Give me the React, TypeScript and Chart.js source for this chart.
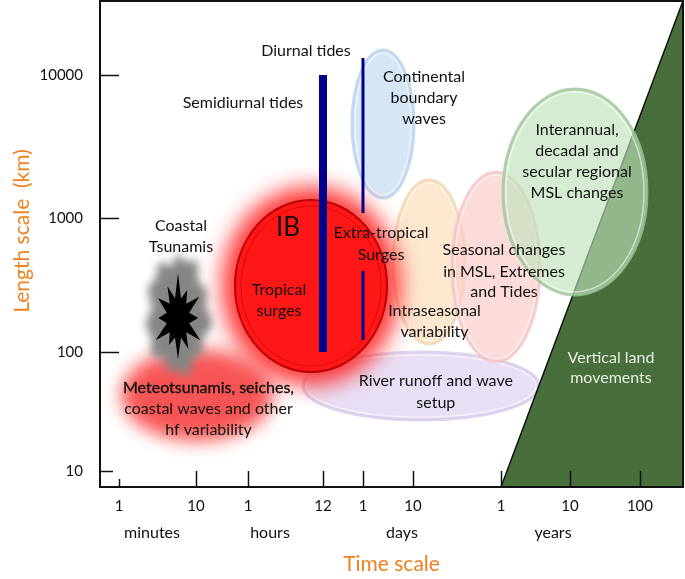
import React, { useEffect, useRef } from 'react';
import { Chart, registerables } from 'chart.js';

Chart.register(...registerables);

const FONT = 'Lato, "Open Sans", "DejaVu Sans", sans-serif';
const ORANGE = '#F0801E';

// ---- axes (schematic positions along each axis, 0..100) ----
const timeTickPos = [3.26, 16.47, 25.39, 38.25, 45.11, 53.69, 68.78, 80.62, 92.62];
const timeTickLabels = ['1', '10', '1', '12', '1', '10', '1', '10', '100'];
const timeUnitPos = [8.92, 29.16, 51.8, 77.7];
const timeUnitLabels = ['minutes', 'hours', 'days', 'years'];

const lengthTickPos = [84.77, 55.35, 27.78, 3.29];
const lengthTickLabels = ['10000', '1000', '100', '10'];

// ---- processes drawn as ellipses (centre, half extents in axis units) ----
const procNames = ['River runoff and wave setup', 'Continental boundary waves', 'Intraseasonal variability',
  'Seasonal changes', 'Interannual/decadal', 'Meteotsunamis', 'Coastal tsunamis', 'Tropical surges / IB'];
const procX = [55.06, 48.54, 56.43, 67.92, 81.47, 16.64, 13.38, 36.19];
const procY = [20.78, 74.69, 46.30, 45.27, 60.70, 18.93, 35.39, 41.36];
const procHalfX = [20.24, 5.32, 6.17, 7.55, 12.35, 13.04, 5.2, 13.04];
const procHalfY = [7.0, 15.23, 16.87, 19.55, 21.19, 9.47, 11.8, 17.7];

// ---- tides (vertical bars) ----
const semidiurnalX = 38.25;
const semidiurnalY = [27.78, 84.77];
const diurnalX = 45.11;
const diurnalUpperY = [56.38, 88.27];
const diurnalLowerY = [30.25, 44.44];

// ---- vertical land movements (triangle) ----
const vlmX = [68.78, 100, 100];
const vlmY = [0, 100, 0];

// ---- text annotations ----
const noteText = ['Diurnal tides', 'Semidiurnal tides', 'Continental', 'boundary', 'waves',
  'Interannual,', 'decadal and', 'secular regional', 'MSL changes', 'IB', 'Tropical', 'surges',
  'Extra-tropical', 'Surges', 'Intraseasonal', 'variability', 'Seasonal changes', 'in MSL, Extremes',
  'and Tides', 'River runoff and wave', 'setup', 'Meteotsunamis, seiches,', 'coastal waves and other',
  'hf variability', 'Vertical land', 'movements', 'Coastal', 'Tsunamis'];
const noteX = [35.33, 24.53, 55.57, 55.57, 55.57, 81.82, 81.82, 81.82, 81.82, 32.25, 30.7, 30.7,
  48.2, 48.2, 57.38, 57.38, 69.3, 69.3, 69.3, 57.6, 57.6, 18.61, 18.61, 18.61, 87.65, 87.65, 13.89, 13.89];
const noteY = [89.71, 79.01, 84.36, 80.04, 75.72, 73.46, 69.14, 64.81, 60.49, 53.29, 40.53, 36.21,
  52.26, 47.74, 36.21, 31.89, 48.77, 44.24, 40.12, 21.81, 17.28, 20.37, 16.05, 11.73, 26.54, 22.43, 53.7, 49.38];

// styles
const bubbleFill = ['rgba(229,219,243,0.9)', 'rgba(207,226,243,0.85)', 'rgba(253,229,202,0.88)',
  'rgba(251,205,205,0.72)', 'rgba(190,225,185,0.64)'];
const bubbleEdge = ['rgba(215,202,234,0.8)', 'rgba(185,210,236,0.8)', 'rgba(244,212,178,0.8)',
  'rgba(242,190,190,0.65)', 'rgba(160,198,155,0.8)'];
const xTickLen = [8, 16, 16, 16, 16, 16, 16, 16, 16];
const yTickLen = [19, 19, 19, 13];
const starSpikes = [1.0, 0.72, 0.95, 0.78, 1.0, 0.8, 0.92, 0.7, 1.0, 0.76, 0.9, 0.82];

function ell(chart: any, i: number) {
  const xs = chart.scales.x;
  const ys = chart.scales.y;
  const cx = xs.getPixelForValue(procX[i]);
  const cy = ys.getPixelForValue(procY[i]);
  const rx = xs.getPixelForValue(procX[i] + procHalfX[i]) - cx;
  const ry = cy - ys.getPixelForValue(procY[i] + procHalfY[i]);
  return { cx, cy, rx, ry };
}

function ellipsePath(ctx: CanvasRenderingContext2D, cx: number, cy: number, rx: number, ry: number) {
  ctx.beginPath();
  ctx.ellipse(cx, cy, Math.max(rx, 1), Math.max(ry, 1), 0, 0, Math.PI * 2);
}

function bubble(ctx: CanvasRenderingContext2D, chart: any, i: number) {
  const e = ell(chart, i);
  ctx.save();
  ellipsePath(ctx, e.cx, e.cy, e.rx, e.ry);
  ctx.fillStyle = bubbleFill[i];
  ctx.fill();
  ctx.lineWidth = 3;
  ctx.strokeStyle = bubbleEdge[i];
  ctx.stroke();
  ellipsePath(ctx, e.cx, e.cy, e.rx - 3, e.ry - 3);
  ctx.lineWidth = 1.5;
  ctx.strokeStyle = 'rgba(255,255,255,0.55)';
  ctx.stroke();
  ctx.restore();
}

const diagramPlugin = {
  id: 'diagram',
  beforeDatasetsDraw(chart: any) {
    const ctx: CanvasRenderingContext2D = chart.ctx;
    const xs = chart.scales.x;
    const ys = chart.scales.y;
    bubble(ctx, chart, 0);
    bubble(ctx, chart, 1);
    bubble(ctx, chart, 2);
    bubble(ctx, chart, 3);
    // vertical land movements triangle
    ctx.save();
    ctx.beginPath();
    vlmX.forEach((v, k) => {
      const px = xs.getPixelForValue(v);
      const py = ys.getPixelForValue(vlmY[k]);
      if (k === 0) ctx.moveTo(px, py); else ctx.lineTo(px, py);
    });
    ctx.closePath();
    ctx.fillStyle = '#476e3b';
    ctx.fill();
    ctx.beginPath();
    ctx.moveTo(xs.getPixelForValue(vlmX[0]), ys.getPixelForValue(vlmY[0]));
    ctx.lineTo(xs.getPixelForValue(vlmX[1]), ys.getPixelForValue(vlmY[1]));
    ctx.lineWidth = 1.5;
    ctx.strokeStyle = '#111';
    ctx.stroke();
    ctx.restore();
    bubble(ctx, chart, 4);

    // meteotsunami red blur
    let e = ell(chart, 5);
    ctx.save();
    ctx.filter = 'blur(9px)';
    ellipsePath(ctx, e.cx, e.cy, e.rx, e.ry);
    ctx.fillStyle = 'rgba(246,66,66,0.9)';
    ctx.fill();
    ctx.restore();

    // coastal tsunami grey blob + star
    e = ell(chart, 6);
    ctx.save();
    ctx.filter = 'blur(4px)';
    ctx.beginPath();
    for (let k = 0; k <= 90; k++) {
      const a = (k / 90) * Math.PI * 2;
      const r = 1 + 0.08 * Math.sin(11 * a) + 0.05 * Math.sin(5 * a + 1);
      const px = e.cx + Math.cos(a) * e.rx * r;
      const py = e.cy + Math.sin(a) * e.ry * r;
      if (k === 0) ctx.moveTo(px, py); else ctx.lineTo(px, py);
    }
    ctx.closePath();
    ctx.fillStyle = '#858585';
    ctx.fill();
    ctx.restore();
    ctx.save();
    ctx.beginPath();
    const n = starSpikes.length;
    const srx = e.rx * 0.85;
    const sry = e.ry * 0.78;
    for (let k = 0; k < n * 2; k++) {
      const a = -Math.PI / 2 + (k / (n * 2)) * Math.PI * 2;
      const r = k % 2 === 0 ? starSpikes[k / 2] : 0.45;
      const px = e.cx + Math.cos(a) * srx * r;
      const py = e.cy + 3 + Math.sin(a) * sry * r;
      if (k === 0) ctx.moveTo(px, py); else ctx.lineTo(px, py);
    }
    ctx.closePath();
    ctx.fillStyle = '#000';
    ctx.fill();
    ctx.restore();

    // IB / tropical surges red disc with glow
    e = ell(chart, 7);
    ctx.save();
    ctx.filter = 'blur(11px)';
    ellipsePath(ctx, e.cx, e.cy, e.rx + 13, e.ry + 13);
    ctx.fillStyle = 'rgba(255,30,30,0.9)';
    ctx.fill();
    ctx.restore();
    ctx.save();
    ellipsePath(ctx, e.cx, e.cy, e.rx, e.ry);
    ctx.fillStyle = '#ff1616';
    ctx.fill();
    ctx.lineWidth = 2;
    ctx.strokeStyle = '#b80000';
    ctx.stroke();
    ellipsePath(ctx, e.cx, e.cy, e.rx - 6, e.ry - 6);
    ctx.lineWidth = 1;
    ctx.strokeStyle = 'rgba(160,0,0,0.45)';
    ctx.stroke();
    ctx.restore();
  },
  afterDatasetsDraw(chart: any) {
    const ctx: CanvasRenderingContext2D = chart.ctx;
    const xs = chart.scales.x;
    const ys = chart.scales.y;
    ctx.save();
    ctx.textAlign = 'center';
    ctx.textBaseline = 'middle';
    noteText.forEach((t, i) => {
      let font = `16px ${FONT}`;
      let color = '#111';
      if (t === 'IB') font = `26px ${FONT}`;
      if (t === 'Vertical land' || t === 'movements') color = '#e8efe2';
      ctx.font = font;
      ctx.fillStyle = color;
      const px = xs.getPixelForValue(noteX[i]);
      const py = ys.getPixelForValue(noteY[i]);
      ctx.fillText(t, px, py);
      if (t.startsWith('Meteotsunamis')) {
        ctx.lineWidth = 0.35;
        ctx.strokeStyle = color;
        ctx.strokeText(t, px, py);
      }
    });
    ctx.restore();
  },
  afterDraw(chart: any) {
    const ctx: CanvasRenderingContext2D = chart.ctx;
    const xs = chart.scales.x;
    const ys = chart.scales.y;
    const { left, right, top, bottom } = chart.chartArea;
    ctx.save();
    ctx.strokeStyle = '#111';
    ctx.lineWidth = 2;
    ctx.strokeRect(left, top, right - left, bottom - top);
    ctx.lineWidth = 1.5;
    timeTickPos.forEach((v, i) => {
      const px = Math.round(xs.getPixelForValue(v)) + 0.5;
      ctx.beginPath();
      ctx.moveTo(px, bottom);
      ctx.lineTo(px, bottom - xTickLen[i]);
      ctx.stroke();
    });
    lengthTickPos.forEach((v, i) => {
      const py = Math.round(ys.getPixelForValue(v)) + 0.5;
      ctx.beginPath();
      ctx.moveTo(left, py);
      ctx.lineTo(left + yTickLen[i], py);
      ctx.stroke();
    });
    ctx.fillStyle = '#111';
    ctx.font = `16px ${FONT}`;
    ctx.textAlign = 'center';
    ctx.textBaseline = 'middle';
    timeUnitLabels.forEach((t, i) => {
      ctx.fillText(t, xs.getPixelForValue(timeUnitPos[i]), 533);
    });
    ctx.translate(22, 231);
    ctx.rotate(-Math.PI / 2);
    ctx.fillStyle = ORANGE;
    ctx.font = `21px ${FONT}`;
    ctx.fillText('Length scale  (km)', 0, 0);
    ctx.restore();
  },
};

export default function App() {
  const ref = useRef<HTMLCanvasElement | null>(null);
  useEffect(() => {
    if (!ref.current) return;
    const bar = (xv: number, ys: number[], w: number, label: string) => ({
      type: 'line' as const,
      label,
      data: [{ x: xv, y: ys[0] }, { x: xv, y: ys[1] }],
      borderColor: '#00008b',
      borderWidth: w,
      borderCapStyle: 'butt' as const,
      pointRadius: 0,
      showLine: true,
      fill: false,
    });
    const chart = new Chart(ref.current, {
      type: 'scatter',
      data: {
        datasets: [
          bar(semidiurnalX, semidiurnalY, 8, 'Semidiurnal tides'),
          bar(diurnalX, diurnalUpperY, 3, 'Diurnal tides'),
          bar(diurnalX, diurnalLowerY, 3, 'Diurnal tides (lower)'),
        ] as any,
      },
      options: {
        animation: false,
        responsive: false,
        devicePixelRatio: 1,
        events: [],
        layout: { padding: { top: 1, right: 2, left: 0, bottom: 0 } },
        plugins: { legend: { display: false }, tooltip: { enabled: false } },
        scales: {
          x: {
            type: 'linear',
            min: 0,
            max: 100,
            grid: { display: false, drawTicks: false },
            border: { display: false },
            afterBuildTicks: (s: any) => { s.ticks = timeTickPos.map((v) => ({ value: v })); },
            afterFit: (s: any) => {
              s.height = 92;
              s.paddingLeft = 0; s.paddingRight = 0; s.paddingTop = 0; s.paddingBottom = 0;
            },
            ticks: {
              autoSkip: false,
              maxRotation: 0,
              minRotation: 0,
              padding: 10,
              color: '#111',
              font: { family: FONT, size: 15 },
              callback: (_v: any, i: number) => timeTickLabels[i],
            },
            title: {
              display: true,
              text: 'Time scale',
              color: ORANGE,
              font: { family: FONT, size: 21 },
              padding: { top: 0, bottom: 2 },
            },
          },
          y: {
            type: 'linear',
            min: 0,
            max: 100,
            grid: { display: false, drawTicks: false },
            border: { display: false },
            afterBuildTicks: (s: any) => { s.ticks = lengthTickPos.map((v) => ({ value: v })); },
            afterFit: (s: any) => {
              s.width = 100;
              s.paddingLeft = 0; s.paddingRight = 0; s.paddingTop = 0; s.paddingBottom = 0;
            },
            ticks: {
              autoSkip: false,
              padding: 17,
              color: '#111',
              font: { family: FONT, size: 15 },
              callback: (_v: any, i: number) => lengthTickLabels[i],
            },
          },
        },
      } as any,
      plugins: [diagramPlugin],
    });
    return () => chart.destroy();
  }, []);
  return (
    <div style={{ position: 'absolute', left: 0, top: 0, width: 685, height: 579, background: '#fff' }}>
      <canvas ref={ref} width={685} height={579} style={{ display: 'block' }} />
    </div>
  );
}
